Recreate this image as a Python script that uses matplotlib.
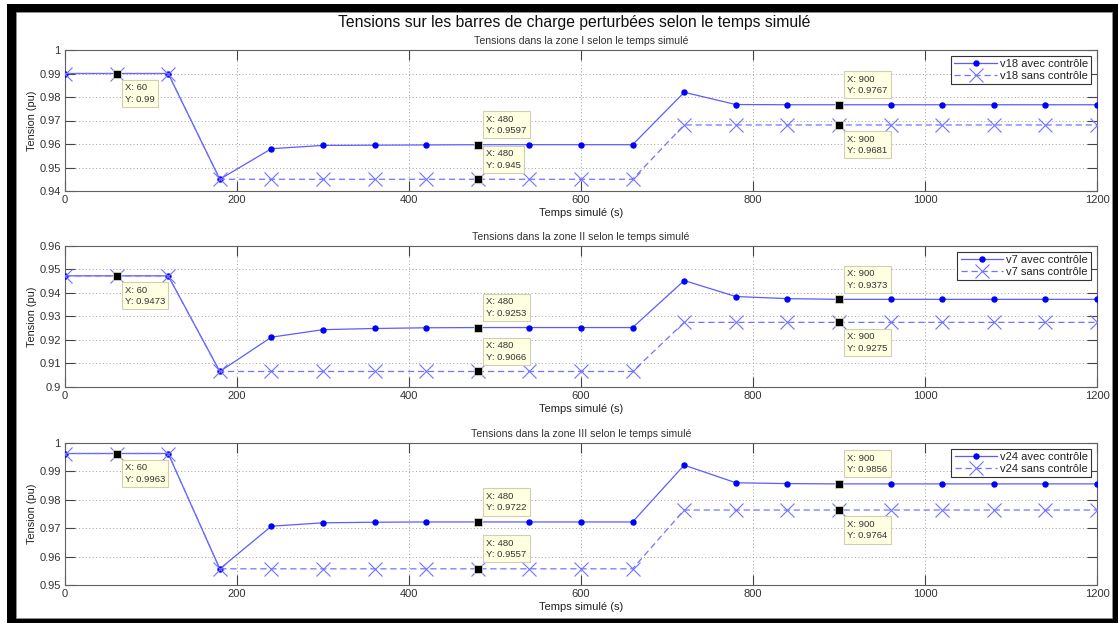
import matplotlib
matplotlib.use('Agg')
import matplotlib.pyplot as plt
from matplotlib.patches import Rectangle
from matplotlib.ticker import FuncFormatter

plt.rcParams['font.family'] = ['Liberation Sans', 'DejaVu Sans']

# temps simulé (s)
temps = [0, 60, 120, 180, 240, 300, 360, 420, 480, 540, 600, 660,
         720, 780, 840, 900, 960, 1020, 1080, 1140, 1200]

v18_avec = [0.99, 0.99, 0.99, 0.945, 0.958, 0.9594, 0.9595, 0.9596, 0.9597, 0.9597, 0.9597, 0.9597,
            0.982, 0.9768, 0.9767, 0.9767, 0.9767, 0.9767, 0.9767, 0.9767, 0.9767]
v18_sans = [0.99, 0.99, 0.99, 0.945, 0.945, 0.945, 0.945, 0.945, 0.945, 0.945, 0.945, 0.945,
            0.9681, 0.9681, 0.9681, 0.9681, 0.9681, 0.9681, 0.9681, 0.9681, 0.9681]

v7_avec = [0.9473, 0.9473, 0.9473, 0.9066, 0.9212, 0.9244, 0.9249, 0.9252, 0.9253, 0.9253, 0.9253, 0.9253,
           0.9453, 0.9385, 0.9376, 0.9373, 0.9373, 0.9373, 0.9373, 0.9373, 0.9373]
v7_sans = [0.9473, 0.9473, 0.9473, 0.9066, 0.9066, 0.9066, 0.9066, 0.9066, 0.9066, 0.9066, 0.9066, 0.9066,
           0.9275, 0.9275, 0.9275, 0.9275, 0.9275, 0.9275, 0.9275, 0.9275, 0.9275]

v24_avec = [0.9963, 0.9963, 0.9963, 0.9557, 0.9707, 0.9719, 0.9721, 0.9722, 0.9722, 0.9722, 0.9722, 0.9722,
            0.9922, 0.986, 0.9857, 0.9856, 0.9856, 0.9856, 0.9856, 0.9856, 0.9856]
v24_sans = [0.9963, 0.9963, 0.9963, 0.9557, 0.9557, 0.9557, 0.9557, 0.9557, 0.9557, 0.9557, 0.9557, 0.9557,
            0.9764, 0.9764, 0.9764, 0.9764, 0.9764, 0.9764, 0.9764, 0.9764, 0.9764]

zones = ['I', 'II', 'III']
noms = ['v18', 'v7', 'v24']
avec = [v18_avec, v7_avec, v24_avec]
sans = [v18_sans, v7_sans, v24_sans]
ylims = [(0.94, 1.0), (0.9, 0.96), (0.95, 1.0)]
ystep = 0.01

# data tips: (serie, temps, position)
tips = [('avec', 60, 'bas'), ('avec', 480, 'haut'), ('sans', 480, 'haut'),
        ('avec', 900, 'haut'), ('sans', 900, 'bas')]

W, H = 1118, 623
fig = plt.figure(figsize=(W / 100, H / 100), dpi=100)
fig.patch.set_facecolor('white')

# cadre noir de la capture
fig.add_artist(Rectangle((7 / W, 0), 1 - 7 / W, 1 - 4 / H, transform=fig.transFigure,
                         facecolor='black', edgecolor='none', zorder=-20))
fig.add_artist(Rectangle((16 / W, 1 - 618 / H), (1112 - 16) / W, (618 - 12) / H,
                         transform=fig.transFigure, facecolor='white', edgecolor='#909090',
                         lw=0.6, zorder=-19))

fig.text(574 / W, 1 - 22 / H, 'Tensions sur les barres de charge perturbées selon le temps simulé',
         ha='center', va='center', fontsize=11.3, color='#111111')

tops = [50, 246, 443]
bottoms = [191, 387, 585]
left, right = 65, 1097

line_col = '#5c5cff'
dot_col = '#0000ff'
x_col = '#7373ff'

for i in range(3):
    ax = fig.add_axes([left / W, 1 - bottoms[i] / H, (right - left) / W, (bottoms[i] - tops[i]) / H])
    ax.plot(temps, avec[i], '-', color=line_col, lw=0.9, marker='o', ms=3.6,
            mfc=dot_col, mec=dot_col, label=noms[i] + ' avec contrôle', zorder=3)
    ax.plot(temps, sans[i], '--', color=x_col, lw=0.9, dashes=(5, 3), marker='x', ms=10,
            mew=0.8, mec=x_col, label=noms[i] + ' sans contrôle', zorder=3)

    ax.set_xlim(0, 1200)
    ax.set_ylim(*ylims[i])
    ax.set_xticks(range(0, 1201, 200))
    y0, y1 = ylims[i]
    n = int(round((y1 - y0) / ystep))
    ax.set_yticks([round(y0 + k * ystep, 2) for k in range(n + 1)])
    ax.yaxis.set_major_formatter(FuncFormatter(lambda v, p: '%g' % round(v, 4)))

    ax.grid(True, linestyle=(0, (1, 2.5)), color='#a0a0a0', lw=0.7)
    ax.tick_params(direction='in', length=7, width=0.8, top=True, right=True,
                   colors='#444444', labelcolor='#333333', labelsize=8, pad=3)
    for s in ax.spines.values():
        s.set_color('#606060')
        s.set_linewidth(0.8)

    ax.set_title('Tensions dans la zone ' + zones[i] + ' selon le temps simulé',
                 fontsize=7.6, color='#333333', pad=4)
    ax.set_xlabel('Temps simulé (s)', fontsize=8, color='#222222', labelpad=2)
    ax.set_ylabel('Tension (pu)', fontsize=7.8, color='#222222', labelpad=2)

    leg = ax.legend(loc='upper right', fontsize=8, numpoints=1, handlelength=3.8,
                    fancybox=False, framealpha=1, borderpad=0.3, labelspacing=0.2,
                    handletextpad=0.3, borderaxespad=0.5, edgecolor='#333333')
    leg.get_frame().set_linewidth(0.8)
    for t in leg.get_texts():
        t.set_color('#222222')

    for serie, tx, pos in tips:
        vals = avec[i] if serie == 'avec' else sans[i]
        ty = vals[temps.index(tx)]
        ax.plot(tx, ty, 's', color='black', ms=5.2, mec='#e8e8c0', mew=0.5, zorder=5)
        if pos == 'haut':
            off, va = (6, 7), 'bottom'
        else:
            off, va = (6, -7), 'top'
        ax.annotate('X: %g\nY: %.4g' % (tx, ty), xy=(tx, ty), xytext=off,
                    textcoords='offset points', ha='left', va=va, fontsize=6.8,
                    color='#333333', linespacing=1.35, zorder=6,
                    bbox=dict(boxstyle='square,pad=0.35', fc='#ffffe1', ec='#d0d0b0', lw=0.8))

fig.savefig('out.png', dpi=100)
